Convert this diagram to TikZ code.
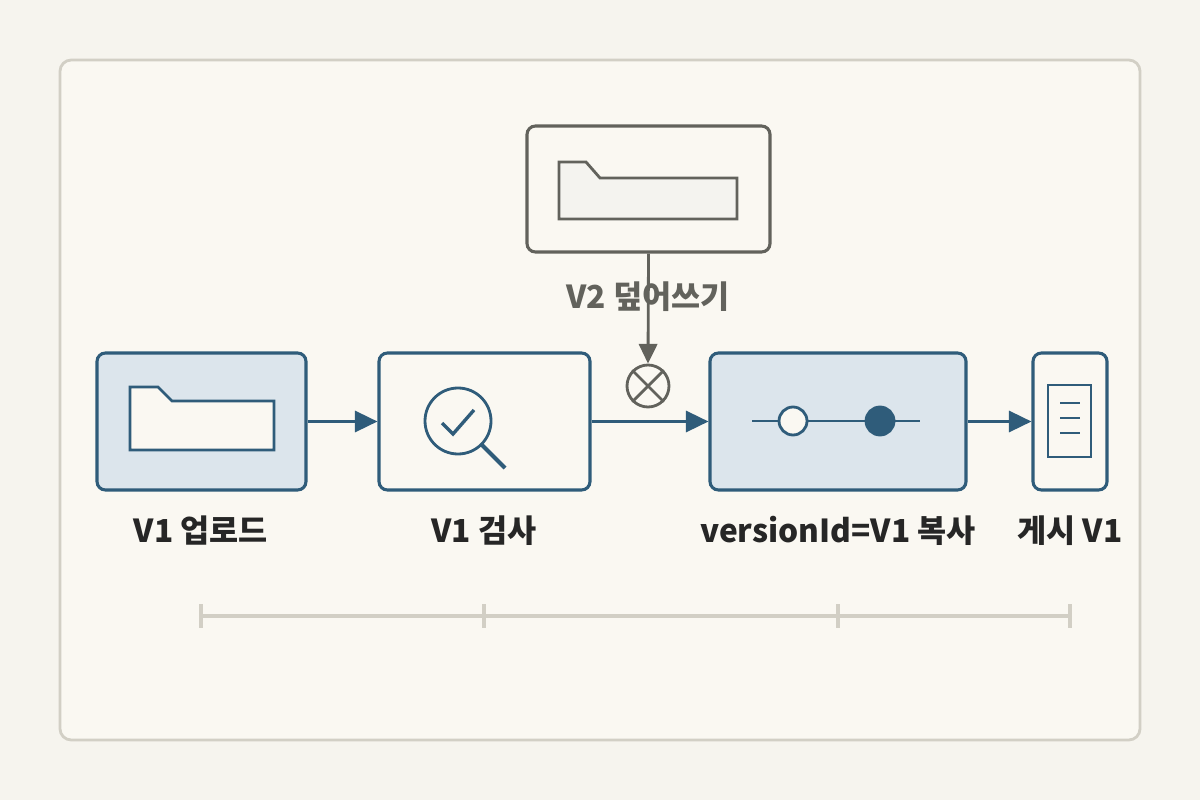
\documentclass[tikz,border=0pt]{standalone}
\usepackage{fontspec}
\setmainfont{Noto Sans CJK KR}
\usetikzlibrary{arrows.meta}
\definecolor{paper}{HTML}{F6F4EE}
\definecolor{panel}{HTML}{FAF8F2}
\definecolor{frame}{HTML}{D2CFC5}
\definecolor{steel}{HTML}{2F5C7A}
\definecolor{steelfill}{HTML}{DCE5EC}
\definecolor{ash}{HTML}{62625C}
\definecolor{ashfill}{HTML}{F4F3EF}
\tikzset{
  stepbox/.style={draw=steel, line width=2.2pt, rounded corners=6pt, fill=panel},
  stepdone/.style={stepbox, fill=steelfill},
  icon/.style={draw=steel, line width=2pt},
  flow/.style={draw=steel, line width=2pt, -{Triangle[length=16pt,width=15pt]}},
  steplabel/.style={font=\bfseries\fontsize{22.5}{26}\selectfont, text=black!85},
  tick/.style={draw=frame, line width=2.4pt}
}
\begin{document}
\begin{tikzpicture}[x=0.025cm, y=-0.025cm]
\useasboundingbox (0,0) rectangle (1200,800);
% Background
\fill[paper] (0,0) rectangle (1200,800);
\draw[frame, line width=2pt, fill=panel, rounded corners=8pt] (60,60) rectangle (1140,740);

% Steps
\node[stepdone, minimum width=209*0.025cm, minimum height=137*0.025cm] (upload) at (201.5,421.5) {};
\node[stepbox, minimum width=211*0.025cm, minimum height=137*0.025cm] (scan) at (484.5,421.5) {};
\node[stepdone, minimum width=256*0.025cm, minimum height=137*0.025cm] (copy) at (838,421.5) {};
\node[stepbox, minimum width=74*0.025cm, minimum height=137*0.025cm] (publish) at (1070,421.5) {};
\node[draw=ash, line width=2.2pt, rounded corners=6pt, fill=panel, minimum width=243*0.025cm, minimum height=126*0.025cm] (overwrite) at (648.5,189) {};

% Icons
\draw[icon, fill=panel] (130,387) -- (158,387) -- (172,401) -- (274,401) -- (274,450) -- (130,450) -- cycle;
\draw[draw=ash, line width=2pt, fill=ashfill] (559,162) -- (586,162) -- (600,178) -- (737,178) -- (737,219) -- (559,219) -- cycle;
\draw[icon] (458,421) circle (33);
\draw[icon, line width=2.4pt] (442,423) -- (453,434) -- (474,410);
\draw[icon, line width=3pt] (482,445) -- (505,468);
\draw[icon] (752,421) -- (920,421);
\draw[icon, fill=panel] (793,421) circle (14);
\draw[icon, fill=steel] (880,421) circle (14);
\draw[icon, fill=panel] (1048,385) rectangle (1091,457);
\foreach \y in {403,418,433}
  \draw[icon] (1060,\y) -- (1080,\y);

% Labels
\node[steplabel] (uploadtext) at (201,531) {V1 업로드};
\node[steplabel] (scantext) at (484,531) {V1 검사};
\node[steplabel] (copytext) at (838,531) {versionId=V1 복사};
\node[steplabel] (publishtext) at (1070,531) {게시 V1};

% Arrows
\draw[flow] (upload.east) -- (scan.west);
\draw[flow] (scan.east) -- (copy.west);
\draw[flow] (copy.east) -- (publish.west);

% Overwrite attempt
\node[draw=ash, line width=2pt, circle, minimum size=42*0.025cm, inner sep=0pt] (blocked) at (648,386) {};
\draw[ash, line width=2pt] (blocked.45) -- (blocked.225) (blocked.135) -- (blocked.315);
\draw[ash, line width=2pt, -{Triangle[length=14pt,width=13pt]}] (overwrite.south) -- (blocked.north);
\node[steplabel, text=ash] (overwritetext) at (648,297) {V2 덮어쓰기};

% Timeline
\coordinate (t1) at (201,616);
\coordinate (t4) at (1070,616);
\draw[tick] (t1) -- (t4);
\foreach \x in {201,484,838,1070}
  \draw[tick] (\x,604) -- (\x,628);
\end{tikzpicture}
\end{document}
